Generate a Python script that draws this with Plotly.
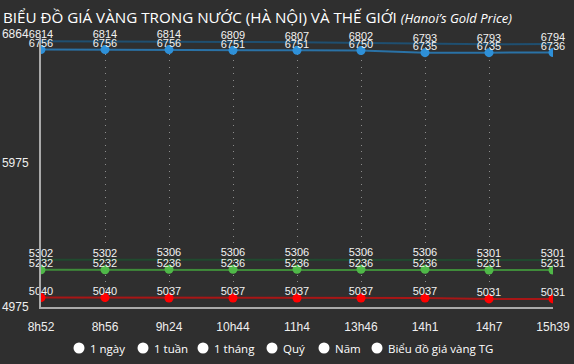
import plotly.graph_objects as go

times = ["8h52", "8h56", "9h24", "10h44", "11h4", "13h46", "14h1", "14h7", "15h39"]
hn_sell = [6814, 6814, 6814, 6809, 6807, 6802, 6793, 6793, 6794]
hn_buy = [6756, 6756, 6756, 6751, 6751, 6750, 6735, 6735, 6736]
g2_sell = [5302, 5302, 5306, 5306, 5306, 5306, 5306, 5301, 5301]
g2_buy = [5232, 5232, 5236, 5236, 5236, 5236, 5236, 5231, 5231]
world = [5040, 5040, 5037, 5037, 5037, 5037, 5037, 5031, 5031]
y_ticks = [4975, 5975, 6864]
options = ["1 ngày", "1 tuần", "1 tháng", "Quý", "Năm", "Biểu đồ giá vàng TG"]

BG = "#2f2f2f"
label_font = dict(family="Liberation Sans, Arial", size=11, color="#f2f2f2")

fig = go.Figure()

def add_series(y, lcolor, mcolor=None):
    fig.add_trace(go.Scatter(
        x=times, y=y, mode="lines+markers" if mcolor else "lines",
        line=dict(color=lcolor, width=2),
        marker=dict(color=mcolor, size=9),
        hoverinfo="skip", showlegend=False))

def add_labels(y):
    fig.add_trace(go.Scatter(
        x=times, y=y, mode="text", text=[str(v) for v in y],
        textposition="top center", textfont=label_font, cliponaxis=False,
        hoverinfo="skip", showlegend=False))

add_series(hn_sell, "#1f4f70")
add_series(hn_buy, "#2a72a6", "#2e90d8")
add_series(g2_sell, "#20492f")
add_series(g2_buy, "#3f8b3a", "#4fb848")
add_series(world, "#a81616", "#ff0000")
for s in (hn_sell, hn_buy, g2_sell, g2_buy, world):
    add_labels(s)

# radio-style option row beneath the chart
L, R, T, B = 41, 21, 34, 57
W, H = 574, 364
pw, ph = W - L - R, H - T - B
circle_px = [79, 143, 203, 272, 324, 377]
row_y = 348
py = (H - B - row_y) / ph
shapes = []
annotations = []
for name, cx in zip(options, circle_px):
    px = (cx - L) / pw
    shapes.append(dict(type="circle", xref="paper", yref="paper",
                       xsizemode="pixel", ysizemode="pixel",
                       xanchor=px, yanchor=py, x0=-5.5, x1=5.5, y0=-5.5, y1=5.5,
                       fillcolor="white", line=dict(width=0)))
    annotations.append(dict(xref="paper", yref="paper", x=(cx + 9 - L) / pw, y=py,
                            xanchor="left", yanchor="middle", showarrow=False,
                            text=name, font=dict(family="Open Sans", size=11.5, color="white")))

fig.update_layout(
    width=W, height=H,
    paper_bgcolor=BG, plot_bgcolor=BG,
    margin=dict(l=L, r=R, t=T, b=B),
    title=dict(
        text="BIỂU ĐỒ GIÁ VÀNG TRONG NƯỚC (HÀ NỘI) VÀ THẾ GIỚI "
             "<i><span style='font-size:13px'>(Hanoi’s Gold Price)</span></i>",
        x=3 / W, xref="container", xanchor="left",
        y=1 - 18 / H, yref="container", yanchor="middle",
        font=dict(family="Open Sans", size=15.2, color="white")),
    xaxis=dict(type="category", range=[0, len(times) - 1], automargin=False,
               showgrid=True, gridcolor="#8c8c8c", gridwidth=1, griddash="1px,5.5px",
               showline=True, linecolor="#aaaaaa", linewidth=2,
               ticks="", ticklabelstandoff=8, zeroline=False,
               tickfont=dict(family="Liberation Sans, Arial", size=12, color="#eeeeee")),
    yaxis=dict(range=[y_ticks[0], y_ticks[-1]], tickvals=y_ticks, automargin=False,
               ticktext=[str(v) for v in y_ticks],
               showgrid=False, zeroline=False,
               showline=True, linecolor="#aaaaaa", linewidth=2,
               ticks="", ticklabelstandoff=8,
               tickfont=dict(family="Liberation Sans, Arial", size=12, color="#eeeeee")),
    shapes=shapes, annotations=annotations,
    showlegend=False,
)

fig.write_html("out.html")
